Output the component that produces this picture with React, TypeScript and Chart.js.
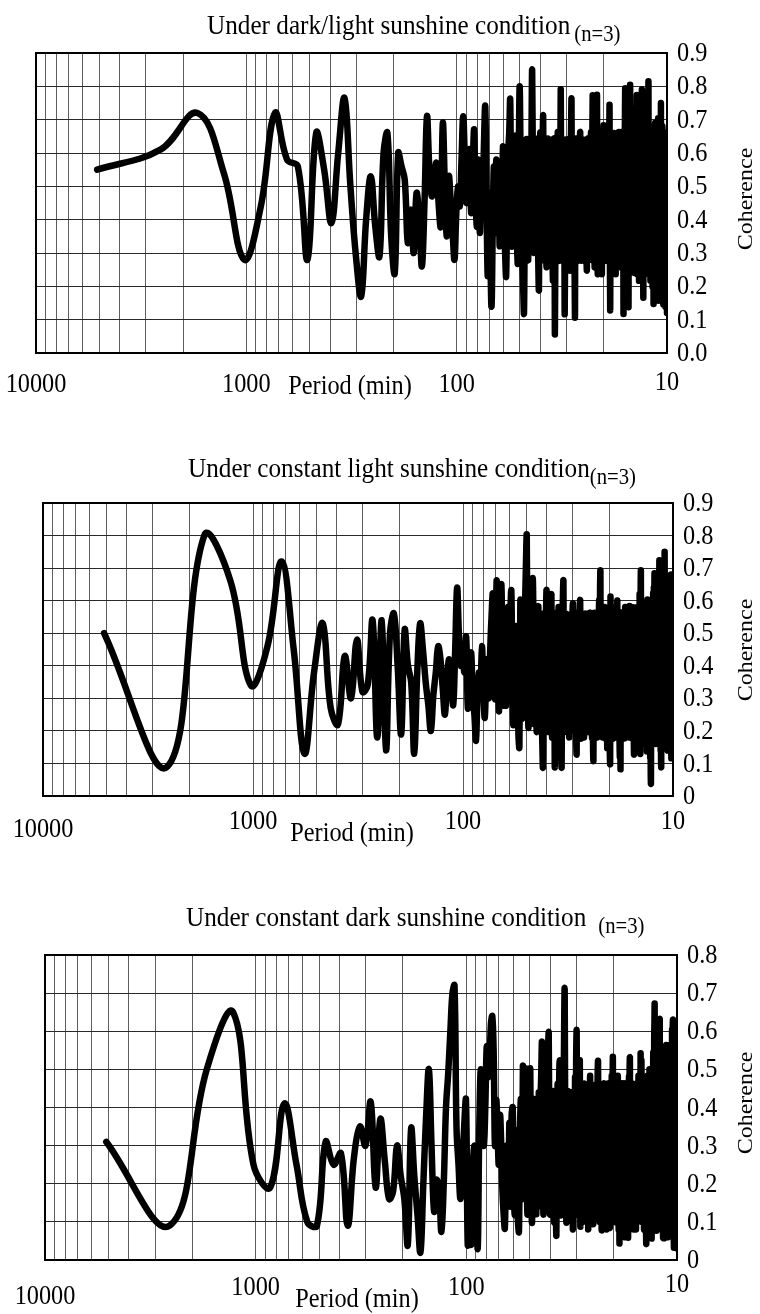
import React, { useEffect, useRef } from "react";
import { Chart, registerables } from "chart.js";

Chart.register(...registerables);

// Spectral estimate: harmonic k (1-based index in the arrays below) has period RECORD_LENGTH_MIN / k.
const RECORD_LENGTH_MIN = 5120;

// Vertical grid lines (period, min) and the labelled decades
const PERIOD_GRID = [
  10, 20, 30, 40, 50, 60, 70, 80, 90,
  100, 200, 300, 400, 500, 600, 700, 800, 900,
  1000, 2000, 3000, 4000, 5000, 6000, 7000, 8000, 9000, 10000,
];
const PERIOD_LABELS = [10000, 1000, 100, 10];

// Coherence tick labels (bottom to top)
const Y_LABELS_DARK_LIGHT = ["0.0", "0.1", "0.2", "0.3", "0.4", "0.5", "0.6", "0.7", "0.8", "0.9"];
const Y_LABELS_CONST_LIGHT = ["0", "0.1", "0.2", "0.3", "0.4", "0.5", "0.6", "0.7", "0.8", "0.9"];
const Y_LABELS_CONST_DARK = ["0", "0.1", "0.2", "0.3", "0.4", "0.5", "0.6", "0.7", "0.8"];

const TITLES = [
  "Under dark/light sunshine condition",
  "Under constant light sunshine condition",
  "Under constant dark sunshine condition",
];
const SUBTITLE = "(n=3)";
const X_TITLE = "Period (min)";
const Y_TITLE = "Coherence";

// Coherence for harmonics k = 1..512, dark/light condition
const COH_DARK_LIGHT = [
  0.55, 0.61, 0.72, 0.54, 0.28, 0.44, 0.72, 0.58, 0.56, 0.28,
  0.66, 0.55, 0.39, 0.60, 0.765, 0.50, 0.29, 0.17, 0.40, 0.53,
  0.38, 0.29, 0.60, 0.66, 0.35, 0.24, 0.60, 0.56, 0.52, 0.33,
  0.43, 0.30, 0.48, 0.40, 0.26, 0.45, 0.71, 0.55, 0.47, 0.52,
  0.57, 0.45, 0.38, 0.69, 0.50, 0.35, 0.53, 0.45, 0.36, 0.28,
  0.42, 0.50, 0.44, 0.58, 0.71, 0.58, 0.45, 0.55, 0.61, 0.42,
  0.55, 0.67, 0.45, 0.38, 0.58, 0.36, 0.55, 0.44, 0.62, 0.74,
  0.45, 0.23, 0.48, 0.30, 0.14, 0.38, 0.56, 0.36, 0.58, 0.40,
  0.55, 0.32, 0.56, 0.40, 0.62, 0.42, 0.30, 0.23, 0.46, 0.60,
  0.66, 0.76, 0.44, 0.32, 0.52, 0.58, 0.65, 0.46, 0.34, 0.27,
  0.55, 0.80, 0.60, 0.36, 0.28, 0.20, 0.12, 0.44, 0.58, 0.64,
  0.45, 0.28, 0.58, 0.62, 0.34, 0.60, 0.85, 0.55, 0.30, 0.56,
  0.62, 0.32, 0.52, 0.64, 0.30, 0.19, 0.48, 0.66, 0.34, 0.58,
  0.62, 0.71, 0.36, 0.28, 0.60, 0.40, 0.26, 0.58, 0.64, 0.30,
  0.55, 0.62, 0.28, 0.36, 0.64, 0.33, 0.22, 0.58, 0.64, 0.06,
  0.36, 0.62, 0.30, 0.58, 0.66, 0.28, 0.34, 0.66, 0.55, 0.79,
  0.40, 0.28, 0.62, 0.58, 0.30, 0.60, 0.12, 0.35, 0.64, 0.30,
  0.62, 0.56, 0.28, 0.60, 0.64, 0.32, 0.25, 0.58, 0.66, 0.76,
  0.36, 0.28, 0.62, 0.34, 0.60, 0.30, 0.11, 0.56, 0.64, 0.32,
  0.60, 0.36, 0.28, 0.62, 0.58, 0.30, 0.60, 0.66, 0.34, 0.28,
  0.62, 0.55, 0.30, 0.64, 0.34, 0.28, 0.60, 0.62, 0.30, 0.36,
  0.62, 0.30, 0.25, 0.56, 0.64, 0.32, 0.60, 0.34, 0.62, 0.58,
  0.28, 0.60, 0.66, 0.34, 0.30, 0.62, 0.77, 0.40, 0.28, 0.60,
  0.36, 0.26, 0.58, 0.64, 0.30, 0.56, 0.62, 0.77, 0.32, 0.24,
  0.60, 0.56, 0.30, 0.64, 0.34, 0.62, 0.28, 0.40, 0.66, 0.33,
  0.24, 0.60, 0.62, 0.34, 0.58, 0.68, 0.36, 0.28, 0.62, 0.64,
  0.30, 0.56, 0.62, 0.28, 0.40, 0.66, 0.32, 0.60, 0.30, 0.62,
  0.36, 0.64, 0.74, 0.30, 0.13, 0.44, 0.62, 0.28, 0.58, 0.64,
  0.32, 0.40, 0.64, 0.26, 0.60, 0.34, 0.66, 0.30, 0.56, 0.62,
  0.34, 0.24, 0.60, 0.64, 0.32, 0.58, 0.30, 0.64, 0.40, 0.26,
  0.60, 0.66, 0.32, 0.56, 0.28, 0.64, 0.36, 0.60, 0.30, 0.62,
  0.40, 0.26, 0.58, 0.66, 0.34, 0.30, 0.60, 0.12, 0.40, 0.64,
  0.32, 0.58, 0.70, 0.79, 0.36, 0.26, 0.62, 0.34, 0.58, 0.30,
  0.66, 0.40, 0.26, 0.60, 0.34, 0.14, 0.52, 0.64, 0.30, 0.60,
  0.68, 0.80, 0.36, 0.28, 0.62, 0.34, 0.58, 0.26, 0.40, 0.66,
  0.30, 0.58, 0.36, 0.64, 0.28, 0.56, 0.62, 0.24, 0.58, 0.34,
  0.62, 0.40, 0.28, 0.60, 0.66, 0.34, 0.70, 0.77, 0.32, 0.24,
  0.58, 0.40, 0.64, 0.30, 0.56, 0.62, 0.22, 0.40, 0.66, 0.32,
  0.60, 0.36, 0.68, 0.56, 0.28, 0.64, 0.72, 0.36, 0.79, 0.30,
  0.60, 0.26, 0.52, 0.66, 0.17, 0.40, 0.62, 0.30, 0.58, 0.64,
  0.34, 0.56, 0.26, 0.60, 0.68, 0.32, 0.40, 0.62, 0.28, 0.66,
  0.36, 0.58, 0.32, 0.72, 0.62, 0.34, 0.68, 0.81, 0.34, 0.24,
  0.60, 0.40, 0.28, 0.64, 0.32, 0.58, 0.22, 0.40, 0.64, 0.30,
  0.68, 0.36, 0.26, 0.60, 0.34, 0.64, 0.20, 0.52, 0.30, 0.62,
  0.36, 0.15, 0.56, 0.66, 0.30, 0.60, 0.36, 0.64, 0.32, 0.69,
  0.40, 0.26, 0.60, 0.34, 0.62, 0.18, 0.52, 0.66, 0.30, 0.60,
  0.34, 0.64, 0.26, 0.56, 0.70, 0.32, 0.16, 0.50, 0.62, 0.30,
  0.58, 0.68, 0.34, 0.26, 0.62, 0.40, 0.66, 0.32, 0.75, 0.36,
  0.20, 0.60, 0.64, 0.30, 0.56, 0.34, 0.68, 0.26, 0.52, 0.62,
  0.32, 0.15, 0.58, 0.66, 0.28, 0.54, 0.64, 0.24, 0.58, 0.62,
  0.32, 0.64, 0.14, 0.52, 0.62, 0.30, 0.58, 0.26, 0.60, 0.36,
  0.62, 0.12,
];

// Coherence for harmonics k = 1..512, constant light condition
const COH_CONST_LIGHT = [
  0.50, 0.09, 0.80, 0.66, 0.34, 0.46, 0.72, 0.45, 0.13, 0.38,
  0.53, 0.27, 0.22, 0.43, 0.30, 0.48, 0.32, 0.34, 0.54, 0.18,
  0.54, 0.14, 0.50, 0.56, 0.40, 0.19, 0.51, 0.40, 0.35, 0.13,
  0.38, 0.53, 0.45, 0.35, 0.28, 0.20, 0.31, 0.38, 0.46, 0.42,
  0.33, 0.25, 0.36, 0.42, 0.35, 0.28, 0.45, 0.64, 0.49, 0.40,
  0.44, 0.38, 0.49, 0.27, 0.36, 0.44, 0.30, 0.25, 0.17, 0.30,
  0.38, 0.32, 0.46, 0.33, 0.24, 0.36, 0.42, 0.30, 0.45, 0.55,
  0.62, 0.40, 0.30, 0.66, 0.48, 0.26, 0.50, 0.65, 0.40, 0.28,
  0.56, 0.28, 0.38, 0.58, 0.30, 0.55, 0.63, 0.34, 0.22, 0.50,
  0.26, 0.52, 0.40, 0.19, 0.15, 0.60, 0.36, 0.24, 0.54, 0.30,
  0.56, 0.70, 0.80, 0.40, 0.21, 0.46, 0.58, 0.26, 0.50, 0.67,
  0.50, 0.22, 0.56, 0.30, 0.20, 0.52, 0.58, 0.24, 0.34, 0.55,
  0.26, 0.18, 0.09, 0.44, 0.56, 0.28, 0.52, 0.63, 0.30, 0.20,
  0.54, 0.26, 0.58, 0.22, 0.62, 0.18, 0.52, 0.28, 0.56, 0.09,
  0.40, 0.56, 0.22, 0.52, 0.20, 0.58, 0.26, 0.50, 0.24, 0.15,
  0.09, 0.48, 0.60, 0.66, 0.30, 0.20, 0.54, 0.24, 0.56, 0.20,
  0.50, 0.26, 0.55, 0.18, 0.52, 0.28, 0.22, 0.54, 0.30, 0.56,
  0.59, 0.24, 0.50, 0.20, 0.56, 0.28, 0.18, 0.13, 0.48, 0.56,
  0.24, 0.52, 0.20, 0.56, 0.60, 0.28, 0.18, 0.52, 0.26, 0.55,
  0.22, 0.50, 0.18, 0.54, 0.28, 0.56, 0.30, 0.20, 0.52, 0.24,
  0.56, 0.30, 0.20, 0.54, 0.26, 0.50, 0.56, 0.22, 0.52, 0.28,
  0.18, 0.48, 0.16, 0.11, 0.44, 0.56, 0.24, 0.52, 0.20, 0.55,
  0.28, 0.50, 0.18, 0.56, 0.30, 0.22, 0.54, 0.60, 0.30, 0.62,
  0.69, 0.30, 0.20, 0.56, 0.26, 0.52, 0.18, 0.55, 0.28, 0.50,
  0.22, 0.58, 0.30, 0.18, 0.52, 0.26, 0.56, 0.32, 0.15, 0.50,
  0.24, 0.56, 0.20, 0.52, 0.28, 0.14, 0.10, 0.61, 0.30, 0.22,
  0.54, 0.26, 0.58, 0.30, 0.18, 0.55, 0.24, 0.50, 0.20, 0.56,
  0.30, 0.22, 0.54, 0.18, 0.50, 0.58, 0.26, 0.60, 0.32, 0.20,
  0.52, 0.26, 0.56, 0.30, 0.16, 0.12, 0.22, 0.085, 0.48, 0.56,
  0.24, 0.52, 0.18, 0.56, 0.28, 0.50, 0.22, 0.55, 0.30, 0.18,
  0.52, 0.26, 0.58, 0.32, 0.20, 0.54, 0.26, 0.56, 0.24, 0.57,
  0.34, 0.20, 0.52, 0.26, 0.55, 0.18, 0.50, 0.58, 0.24, 0.54,
  0.30, 0.20, 0.56, 0.28, 0.22, 0.54, 0.26, 0.18, 0.52, 0.30,
  0.58, 0.26, 0.18, 0.13, 0.48, 0.56, 0.24, 0.52, 0.28, 0.56,
  0.20, 0.50, 0.26, 0.58, 0.22, 0.54, 0.16, 0.48, 0.56, 0.26,
  0.52, 0.22, 0.58, 0.30, 0.62, 0.26, 0.52, 0.13, 0.62, 0.69,
  0.30, 0.20, 0.56, 0.26, 0.52, 0.16, 0.50, 0.58, 0.24, 0.55,
  0.28, 0.56, 0.20, 0.52, 0.26, 0.56, 0.18, 0.48, 0.58, 0.24,
  0.52, 0.22, 0.56, 0.30, 0.14, 0.50, 0.60, 0.24, 0.54, 0.20,
  0.48, 0.56, 0.24, 0.52, 0.18, 0.58, 0.28, 0.50, 0.12, 0.26,
  0.08, 0.04, 0.40, 0.56, 0.28, 0.60, 0.24, 0.54, 0.20, 0.58,
  0.26, 0.62, 0.50, 0.22, 0.64, 0.30, 0.58, 0.68, 0.26, 0.18,
  0.56, 0.24, 0.52, 0.16, 0.55, 0.60, 0.26, 0.52, 0.20, 0.58,
  0.30, 0.64, 0.52, 0.22, 0.60, 0.28, 0.66, 0.54, 0.24, 0.62,
  0.72, 0.30, 0.18, 0.56, 0.24, 0.52, 0.14, 0.48, 0.12, 0.09,
  0.44, 0.60, 0.22, 0.54, 0.64, 0.28, 0.18, 0.58, 0.26, 0.62,
  0.50, 0.22, 0.60, 0.68, 0.30, 0.24, 0.745, 0.56, 0.18, 0.52,
  0.26, 0.62, 0.30, 0.16, 0.56, 0.24, 0.64, 0.52, 0.20, 0.60,
  0.30, 0.55, 0.14, 0.50, 0.62, 0.22, 0.56, 0.28, 0.64, 0.20,
  0.52, 0.58, 0.22, 0.66, 0.30, 0.18, 0.56, 0.24, 0.62, 0.30,
  0.68, 0.26, 0.12, 0.54, 0.22, 0.60, 0.28, 0.66, 0.18, 0.56,
  0.16, 0.12,
];

// Coherence for harmonics k = 1..512, constant dark condition
const COH_CONST_DARK = [
  0.31, 0.09, 0.50, 0.65, 0.25, 0.19, 0.41, 0.25, 0.10, 0.09,
  0.31, 0.25, 0.28, 0.09, 0.27, 0.35, 0.30, 0.415, 0.19, 0.37,
  0.26, 0.16, 0.18, 0.30, 0.22, 0.16, 0.04, 0.345, 0.22, 0.12,
  0.02, 0.20, 0.38, 0.50, 0.30, 0.127, 0.21, 0.18, 0.074, 0.20,
  0.40, 0.49, 0.60, 0.70, 0.72, 0.345, 0.25, 0.16, 0.25, 0.35,
  0.42, 0.04, 0.20, 0.04, 0.25, 0.30, 0.22, 0.03, 0.35, 0.50,
  0.35, 0.30, 0.40, 0.56, 0.48, 0.52, 0.62, 0.64, 0.55, 0.30,
  0.42, 0.34, 0.25, 0.38, 0.30, 0.18, 0.12, 0.083, 0.25, 0.30,
  0.16, 0.36, 0.14, 0.38, 0.40, 0.18, 0.12, 0.34, 0.16, 0.10,
  0.074, 0.34, 0.42, 0.16, 0.51, 0.20, 0.42, 0.50, 0.22, 0.12,
  0.30, 0.44, 0.50, 0.18, 0.10, 0.36, 0.42, 0.14, 0.40, 0.12,
  0.40, 0.14, 0.44, 0.18, 0.40, 0.48, 0.57, 0.30, 0.12, 0.38,
  0.14, 0.42, 0.50, 0.16, 0.52, 0.595, 0.30, 0.12, 0.40, 0.16,
  0.38, 0.44, 0.14, 0.10, 0.40, 0.18, 0.066, 0.36, 0.46, 0.16,
  0.44, 0.52, 0.18, 0.12, 0.40, 0.44, 0.14, 0.36, 0.58, 0.71,
  0.34, 0.14, 0.10, 0.40, 0.16, 0.44, 0.36, 0.12, 0.40, 0.18,
  0.44, 0.14, 0.38, 0.08, 0.36, 0.42, 0.14, 0.48, 0.20, 0.52,
  0.60, 0.24, 0.12, 0.38, 0.16, 0.44, 0.52, 0.09, 0.34, 0.42,
  0.14, 0.40, 0.10, 0.44, 0.18, 0.46, 0.38, 0.12, 0.40, 0.16,
  0.44, 0.14, 0.36, 0.08, 0.38, 0.44, 0.16, 0.48, 0.36, 0.12,
  0.46, 0.18, 0.40, 0.14, 0.096, 0.38, 0.16, 0.44, 0.12, 0.40,
  0.16, 0.42, 0.46, 0.14, 0.48, 0.52, 0.20, 0.12, 0.38, 0.10,
  0.40, 0.16, 0.44, 0.12, 0.08, 0.36, 0.42, 0.14, 0.38, 0.46,
  0.18, 0.10, 0.42, 0.36, 0.14, 0.44, 0.08, 0.38, 0.16, 0.46,
  0.38, 0.12, 0.34, 0.44, 0.14, 0.087, 0.40, 0.46, 0.16, 0.40,
  0.48, 0.18, 0.44, 0.53, 0.26, 0.12, 0.40, 0.14, 0.44, 0.10,
  0.36, 0.42, 0.14, 0.38, 0.10, 0.44, 0.16, 0.48, 0.38, 0.12,
  0.08, 0.30, 0.044, 0.40, 0.44, 0.14, 0.36, 0.46, 0.12, 0.40,
  0.16, 0.44, 0.12, 0.38, 0.08, 0.36, 0.46, 0.14, 0.40, 0.06,
  0.34, 0.44, 0.12, 0.40, 0.16, 0.46, 0.36, 0.10, 0.42, 0.06,
  0.30, 0.40, 0.48, 0.30, 0.50, 0.53, 0.20, 0.12, 0.42, 0.16,
  0.10, 0.40, 0.46, 0.14, 0.38, 0.12, 0.44, 0.36, 0.08, 0.40,
  0.14, 0.42, 0.18, 0.46, 0.12, 0.38, 0.08, 0.36, 0.44, 0.14,
  0.46, 0.38, 0.10, 0.40, 0.16, 0.48, 0.36, 0.12, 0.44, 0.18,
  0.12, 0.48, 0.40, 0.54, 0.20, 0.12, 0.52, 0.38, 0.10, 0.40,
  0.16, 0.46, 0.10, 0.40, 0.14, 0.44, 0.08, 0.38, 0.14, 0.42,
  0.18, 0.46, 0.12, 0.40, 0.08, 0.044, 0.36, 0.44, 0.14, 0.40,
  0.48, 0.16, 0.10, 0.42, 0.36, 0.12, 0.46, 0.18, 0.50, 0.12,
  0.40, 0.14, 0.44, 0.10, 0.38, 0.46, 0.16, 0.06, 0.42, 0.18,
  0.50, 0.36, 0.12, 0.44, 0.54, 0.16, 0.42, 0.10, 0.58, 0.62,
  0.67, 0.30, 0.12, 0.42, 0.10, 0.38, 0.48, 0.14, 0.08, 0.44,
  0.16, 0.46, 0.12, 0.40, 0.52, 0.14, 0.44, 0.10, 0.38, 0.48,
  0.56, 0.20, 0.60, 0.63, 0.18, 0.10, 0.44, 0.14, 0.50, 0.12,
  0.42, 0.14, 0.46, 0.08, 0.38, 0.48, 0.12, 0.44, 0.10, 0.06,
  0.36, 0.46, 0.12, 0.06, 0.40, 0.50, 0.14, 0.44, 0.10, 0.42,
  0.48, 0.16, 0.54, 0.14, 0.56, 0.40, 0.12, 0.44, 0.08, 0.38,
  0.46, 0.14, 0.42, 0.06, 0.38, 0.50, 0.12, 0.44, 0.10, 0.46,
  0.16, 0.52, 0.12, 0.42, 0.10, 0.56, 0.44, 0.08, 0.40, 0.48,
  0.14, 0.44, 0.54, 0.16, 0.60, 0.46, 0.12, 0.58, 0.62, 0.63,
  0.30, 0.10, 0.40, 0.08, 0.035, 0.36, 0.50, 0.16, 0.53, 0.14,
  0.46, 0.12, 0.42, 0.53, 0.16, 0.08, 0.48, 0.38, 0.10, 0.05,
  0.34, 0.03,
];

const SERIF = '"Liberation Serif", "Times New Roman", Times, serif';
const SQUEEZE = 0.9;

type PanelLayout = {
  top: number;
  height: number;
  area: { l: number; t: number; r: number; b: number };
  yMax: number;
  yLabels: string[];
  values: number[];
  title: string;
  titleX: number;
  titleY: number;
  subGap: number;
  xLabelY: number[];
  periodX: number;
  periodY: number;
  cohY: number;
};

const PANELS: PanelLayout[] = [
  {
    top: 0, height: 420,
    area: { l: 36, t: 53, r: 667, b: 353 },
    yMax: 0.9, yLabels: Y_LABELS_DARK_LIGHT, values: COH_DARK_LIGHT,
    title: TITLES[0], titleX: 207, titleY: 34, subGap: 4,
    xLabelY: [385, 385, 385, 383], periodX: 350, periodY: 387, cohY: 199,
  },
  {
    top: 420, height: 450,
    area: { l: 43, t: 503, r: 673, b: 796 },
    yMax: 0.9, yLabels: Y_LABELS_CONST_LIGHT, values: COH_CONST_LIGHT,
    title: TITLES[1], titleX: 188, titleY: 477, subGap: 0,
    xLabelY: [830, 822, 822, 822], periodX: 352, periodY: 834, cohY: 650,
  },
  {
    top: 870, height: 444,
    area: { l: 45, t: 955, r: 677, b: 1260 },
    yMax: 0.8, yLabels: Y_LABELS_CONST_DARK, values: COH_CONST_DARK,
    title: TITLES[2], titleX: 186, titleY: 926, subGap: 12,
    xLabelY: [1297, 1288, 1288, 1285], periodX: 357, periodY: 1300, cohY: 1103,
  },
];

function drawText(
  ctx: CanvasRenderingContext2D, s: string, x: number, y: number, size: number,
  align: CanvasTextAlign, baseline: CanvasTextBaseline = "middle", sx: number = SQUEEZE,
) {
  ctx.save();
  ctx.font = `${size}px ${SERIF}`;
  ctx.fillStyle = "#000";
  ctx.textAlign = align;
  ctx.textBaseline = baseline;
  ctx.translate(x, y);
  ctx.scale(sx, 1);
  ctx.fillText(s, 0, 0);
  ctx.restore();
}

function makeDecor(p: PanelLayout) {
  return {
    id: "decor",
    beforeDatasetsDraw(chart: any) {
      const { ctx, chartArea } = chart;
      ctx.save();
      ctx.strokeStyle = "#000";
      ctx.lineWidth = 2;
      ctx.strokeRect(chartArea.left, chartArea.top, chartArea.right - chartArea.left, chartArea.bottom - chartArea.top);
      ctx.restore();
    },
    afterDraw(chart: any) {
      const { ctx, chartArea, scales } = chart;
      const off = p.top;
      ctx.save();
      ctx.font = `28px ${SERIF}`;
      const tw = ctx.measureText(p.title).width * SQUEEZE;
      ctx.restore();
      drawText(ctx, p.title, p.titleX, p.titleY - off, 28, "left", "alphabetic");
      drawText(ctx, SUBTITLE, p.titleX + tw + p.subGap, p.titleY + 7 - off, 23, "left", "alphabetic");
      p.yLabels.forEach((lab, i) => {
        const y = scales.y.getPixelForValue(i / 10);
        drawText(ctx, lab, chartArea.right + 10, y + 1, 27, "left");
      });
      PERIOD_LABELS.forEach((v, i) => {
        const x = scales.x.getPixelForValue(v);
        drawText(ctx, String(v), x, p.xLabelY[i] - off, 27, "center");
      });
      drawText(ctx, X_TITLE, p.periodX, p.periodY - off, 27, "center");
      ctx.save();
      ctx.translate(746, p.cohY - off);
      ctx.rotate(-Math.PI / 2);
      ctx.font = `24px ${SERIF}`;
      ctx.fillStyle = "#000";
      ctx.textAlign = "center";
      ctx.textBaseline = "middle";
      ctx.scale(1, SQUEEZE);
      ctx.fillText(Y_TITLE, 0, 0);
      ctx.restore();
    },
  };
}

function Panel({ p }: { p: PanelLayout }) {
  const ref = useRef<HTMLCanvasElement | null>(null);
  useEffect(() => {
    if (!ref.current) return;
    const points = p.values.map((v, i) => ({ x: RECORD_LENGTH_MIN / (i + 1), y: v }));
    const chart = new Chart(ref.current, {
      type: "line",
      data: {
        datasets: [
          {
            data: points,
            borderColor: "#000",
            borderWidth: 6.5,
            pointRadius: 0,
            tension: 0.4,
            fill: false,
            borderJoinStyle: "round",
            borderCapStyle: "round",
          } as any,
        ],
      },
      options: {
        responsive: false,
        animation: false,
        events: [],
        layout: {
          padding: {
            left: p.area.l,
            top: p.area.t - p.top,
            right: 760 - p.area.r,
            bottom: p.height - (p.area.b - p.top),
          },
        },
        plugins: {
          legend: { display: false },
          tooltip: { enabled: false },
          title: { display: false },
        },
        scales: {
          x: {
            type: "logarithmic",
            reverse: true,
            min: 10,
            max: 10000,
            afterBuildTicks: (scale: any) => {
              scale.ticks = PERIOD_GRID.map((v) => ({ value: v }));
            },
            ticks: { display: false },
            grid: { color: "#5e5e5e", lineWidth: 1, drawTicks: false },
            border: { display: false },
          },
          y: {
            type: "linear",
            position: "right",
            min: 0,
            max: p.yMax,
            ticks: { display: false, stepSize: 0.1 },
            grid: { color: "#2a2a2a", lineWidth: 1, drawTicks: false },
            border: { display: false },
          },
        },
      } as any,
      plugins: [makeDecor(p)],
    });
    return () => chart.destroy();
  }, [p]);
  return (
    <canvas
      ref={ref}
      width={760}
      height={p.height}
      style={{ position: "absolute", left: 0, top: p.top, width: 760, height: p.height }}
    />
  );
}

export default function App() {
  return (
    <div style={{ position: "absolute", left: 0, top: 0, width: 760, height: 1314, background: "#fff" }}>
      {PANELS.map((p, i) => (
        <Panel key={i} p={p} />
      ))}
    </div>
  );
}
